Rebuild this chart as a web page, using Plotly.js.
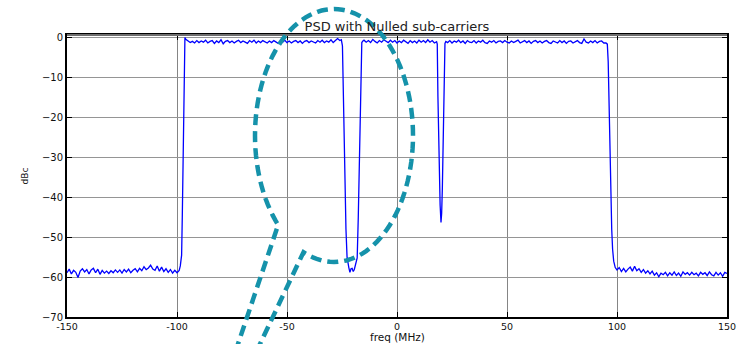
<!DOCTYPE html>
<html>
<head>
<meta charset="utf-8">
<script src="https://cdn.plot.ly/plotly-3.0.1.min.js"></script>
<style>html,body{margin:0;padding:0;background:#fff;}#chart{width:747px;height:344px;}</style>
</head>
<body>
<div id="chart"></div>
<script>
// ---- Data (freq in MHz, PSD in dBc) ----
var freqLowNoise = [-150,-149,-148,-147,-146,-145,-144,-143,-142,-141,-140,-139,-138,-137,-136,-135,-134,-133,-132,-131,-130,-129,-128,-127,-126,-125,-124,-123,-122,-121,-120,-119,-118,-117,-116,-115,-114,-113,-112,-111,-110,-109,-108,-107,-106,-105,-104,-103,-102,-101,-100,-99];
var psdLowNoise  = [-58.9,-58.0,-59.2,-58.3,-58.8,-60.1,-58.5,-57.9,-58.7,-58.1,-59.2,-58.2,-57.8,-58.9,-58.0,-59.3,-58.3,-59.0,-58.5,-59.1,-58.4,-58.9,-58.2,-58.8,-58.2,-59.0,-58.1,-58.7,-58.0,-58.9,-58.3,-57.9,-58.7,-57.8,-58.4,-57.4,-58.1,-57.7,-57.0,-58.0,-58.3,-57.2,-58.5,-57.5,-58.6,-57.9,-58.8,-58.1,-59.0,-58.3,-58.9,-58.3];

var freqRise = [-98.5,-98.2,-97.9,-97.6,-97.3,-97.0,-96.7,-96.4,-96.0];
var psdRise  = [-57.2,-56.3,-54.5,-45,-30,-14,-3,0.1,-0.4];

var freqBandA = [-95,-94,-93,-92,-91,-90,-89,-88,-87,-86,-85,-84,-83,-82,-81,-80,-79,-78,-77,-76,-75,-74,-73,-72,-71,-70,-69,-68,-67,-66,-65,-64,-63,-62,-61,-60,-59,-58,-57,-56,-55,-54,-53,-52,-51,-50,-49,-48,-47,-46,-45,-44,-43,-42,-41,-40,-39,-38,-37,-36,-35,-34,-33,-32,-31,-30,-29,-28,-27,-26,-25.3];
var psdBandA  = [-0.9,-1.2,-0.9,-1.3,-0.7,-1.2,-0.8,-1.1,-0.6,-1.3,-0.9,-0.7,-1.4,-0.8,-1.2,-0.5,-1.5,-0.9,-0.7,-1.2,-0.8,-1.3,-0.9,-0.6,-1.2,-0.8,-1.1,-1.4,-0.7,-1.1,-0.6,-1.3,-0.8,-1.2,-0.7,-1.1,-1.3,-0.8,-1.2,-0.7,-1.1,-1.4,-0.8,-1.1,-0.6,-1.2,-0.8,-1.3,-0.9,-0.7,-1.2,-0.8,-1.4,-0.9,-0.7,-1.2,-0.8,-1.1,-1.3,-0.7,-1.1,-0.6,-1.2,-0.8,-1.1,-0.5,-1.2,-0.7,-0.2,-0.7,-0.5];

var freqNotch1 = [-24.8,-24.3,-23.8,-23.2,-22.7,-22.3,-21.9,-21.4,-20.9,-20.4,-19.9,-19.4,-19.0,-18.5,-18.1,-17.6,-17.2,-16.8,-16.4,-16.0,-15.5];
var psdNotch1  = [-2.0,-20,-35,-48,-55,-57.2,-57.6,-58.8,-57.9,-57.8,-58.6,-58.1,-57.4,-56.5,-55.2,-45,-33,-20,-8,-1.2,-0.8];

var freqBandB = [-15,-14,-13,-12,-11,-10,-9,-8,-7,-6,-5,-4,-3,-2,-1,0,1,2,3,4,5,6,7,8,9,10,11,12,13,14,15,16,17,18];
var psdBandB  = [-0.6,-1.1,-0.7,-1.2,-0.4,-0.9,-1.3,-0.7,-1.1,-0.5,-0.9,-1.2,-0.6,-1.1,-0.7,-1.3,-0.8,-1.2,-0.6,-1.1,-1.4,-0.7,-1.2,-0.8,-1.3,-0.6,-1.1,-0.7,-1.2,-0.5,-1.1,-0.7,-1.3,-1.0];

var freqNotch2 = [18.3,18.6,18.9,19.2,19.6,20.0,20.3,20.6,20.9,21.2,21.5,21.8,22.2];
var psdNotch2  = [-1.6,-14.7,-26,-35.5,-42,-46.3,-44,-38,-29,-18.9,-6,-1.4,-0.9];

var freqBandC = [23,24,25,26,27,28,29,30,31,32,33,34,35,36,37,38,39,40,41,42,43,44,45,46,47,48,49,50,51,52,53,54,55,56,57,58,59,60,61,62,63,64,65,66,67,68,69,70,71,72,73,74,75,76,77,78,79,80,81,82,83,84,85,86,87,88,89,90,91,92,93,94,95];
var psdBandC  = [-1.2,-0.7,-1.3,-0.8,-1.1,-0.6,-1.2,-0.8,-1.4,-0.7,-1.1,-1.2,-0.7,-1.3,-0.8,-1.1,-0.6,-1.2,-1.4,-0.8,-1.1,-0.7,-1.3,-0.9,-0.8,-1.2,-0.7,-1.1,-1.3,-0.8,-1.2,-0.9,-0.6,-1.3,-0.9,-0.7,-1.2,-0.8,-1.4,-0.9,-0.7,-1.2,-0.8,-1.3,-0.9,-0.7,-1.2,-1.4,-0.8,-1.1,-1.3,-0.7,-1.2,-0.8,-1.4,-0.9,-0.8,-1.3,-0.9,-0.7,-1.2,-1.4,-0.3,-1.1,-1.3,-0.8,-1.2,-0.7,-1.3,-0.9,-0.8,-1.3,-1.3];

var freqFall = [95.6,96.0,96.4,96.8,97.2,97.6,98.0,98.5,99.2];
var psdFall  = [-1.6,-6,-18,-30,-40,-48,-53,-56,-57.6];

var freqHighNoise = [100,101,102,103,104,105,106,107,108,109,110,111,112,113,114,115,116,117,118,119,120,121,122,123,124,125,126,127,128,129,130,131,132,133,134,135,136,137,138,139,140,141,142,143,144,145,146,147,148,149,150];
var psdHighNoise  = [-58.2,-57.6,-58.6,-57.8,-58.7,-58.0,-57.5,-58.5,-57.3,-58.4,-57.9,-58.8,-58.1,-59.0,-58.4,-59.2,-58.5,-59.5,-58.9,-59.9,-59.0,-59.4,-58.8,-59.7,-58.9,-59.5,-58.7,-59.6,-59.0,-59.8,-58.7,-59.3,-58.9,-59.5,-58.8,-59.4,-59.0,-59.7,-58.8,-59.3,-58.9,-59.6,-58.7,-59.4,-59.7,-58.8,-59.5,-58.9,-59.8,-58.8,-59.1];

var xTicks = [-150,-100,-50,0,50,100,150];
var yTicks = [-70,-60,-50,-40,-30,-20,-10,0];

var chartTitle = 'PSD with Nulled sub-carriers';
var xLabel = 'freq (MHz)';
var yLabel = 'dBc';

// ---- Build trace ----
var freq = [].concat(freqLowNoise, freqRise, freqBandA, freqNotch1, freqBandB, freqNotch2, freqBandC, freqFall, freqHighNoise);
var psd  = [].concat(psdLowNoise, psdRise, psdBandA, psdNotch1, psdBandB, psdNotch2, psdBandC, psdFall, psdHighNoise);

var trace = {
  x: freq, y: psd, type: 'scatter', mode: 'lines',
  line: {color: '#0000ff', width: 1.3},
  hoverinfo: 'skip'
};

// ---- Callout decoration (dashed ellipse with tail), in pixel geometry -> paper coords ----
var M = {l: 67, r: 20, t: 35, b: 27};
var W = 747, H = 344;
var pw = W - M.l - M.r, ph = H - M.t - M.b;
function px(x) { return (x - M.l) / pw; }
function py(y) { return 1 - (y - M.t) / ph; }
var cx = 334, cy = 135.5, rx = 79, ry = 126.5;
var t0 = 135, t1 = 472.7;
var pathStr = 'M ' + px(235.3) + ',' + py(352);
for (var a = t0; a <= t1 + 0.001; a += 3) {
  var r = a * Math.PI / 180;
  pathStr += ' L ' + px(cx + rx * Math.cos(r)) + ',' + py(cy + ry * Math.sin(r));
}
var re = t1 * Math.PI / 180;
pathStr += ' L ' + px(cx + rx * Math.cos(re)) + ',' + py(cy + ry * Math.sin(re));
pathStr += ' L ' + px(256.2) + ',' + py(352);

var fontFam = 'DejaVu Sans, Arial, sans-serif';
var layout = {
  width: W, height: H,
  margin: M,
  paper_bgcolor: '#ffffff', plot_bgcolor: '#ffffff',
  showlegend: false,
  font: {family: fontFam, size: 10, color: '#111'},
  title: {text: chartTitle, font: {family: fontFam, size: 13, color: '#222'},
          x: 0.5, xref: 'paper', y: 1 - 26 / H, yref: 'container', yanchor: 'middle'},
  xaxis: {
    range: [-150, 150], tickvals: xTicks, ticktext: xTicks.map(String),
    showgrid: true, gridcolor: '#858585', gridwidth: 1,
    zeroline: false, showline: true, linecolor: '#000', linewidth: 2,
    mirror: 'ticks', ticks: 'inside', ticklen: 5, tickcolor: '#000', tickwidth: 1,
    tickfont: {family: fontFam, size: 9.5, color: '#111'},
    automargin: false, fixedrange: true
  },
  yaxis: {
    range: [-70, 0.7], tickvals: yTicks,
    showgrid: true, gridcolor: '#959595', gridwidth: 1,
    zeroline: false, showline: true, linecolor: '#000', linewidth: 2,
    mirror: 'ticks', ticks: 'inside', ticklen: 5, tickcolor: '#000', tickwidth: 1,
    tickfont: {family: fontFam, size: 10, color: '#111'},
    title: {text: yLabel, font: {family: fontFam, size: 9, color: '#111'}, standoff: 12},
    automargin: false, fixedrange: true
  },
  annotations: [
    {text: xLabel, xref: 'paper', yref: 'paper', x: 0.5, y: py(344),
     xanchor: 'center', yanchor: 'bottom', showarrow: false, borderpad: 0,
     font: {family: fontFam, size: 10.5, color: '#111'}}
  ],
  shapes: [
    {type: 'line', xref: 'paper', yref: 'paper', x0: 0, x1: 1, y0: 1, y1: 1,
     line: {color: '#6e6e6e', width: 2}, layer: 'above'},
    {type: 'path', xref: 'paper', yref: 'paper', path: pathStr,
     line: {color: '#1592aa', width: 4.5, dash: '11px,6px'}, fillcolor: 'rgba(0,0,0,0)', layer: 'above'}
  ]
};

Plotly.newPlot('chart', [trace], layout, {displayModeBar: false, staticPlot: true});
</script>
</body>
</html>
